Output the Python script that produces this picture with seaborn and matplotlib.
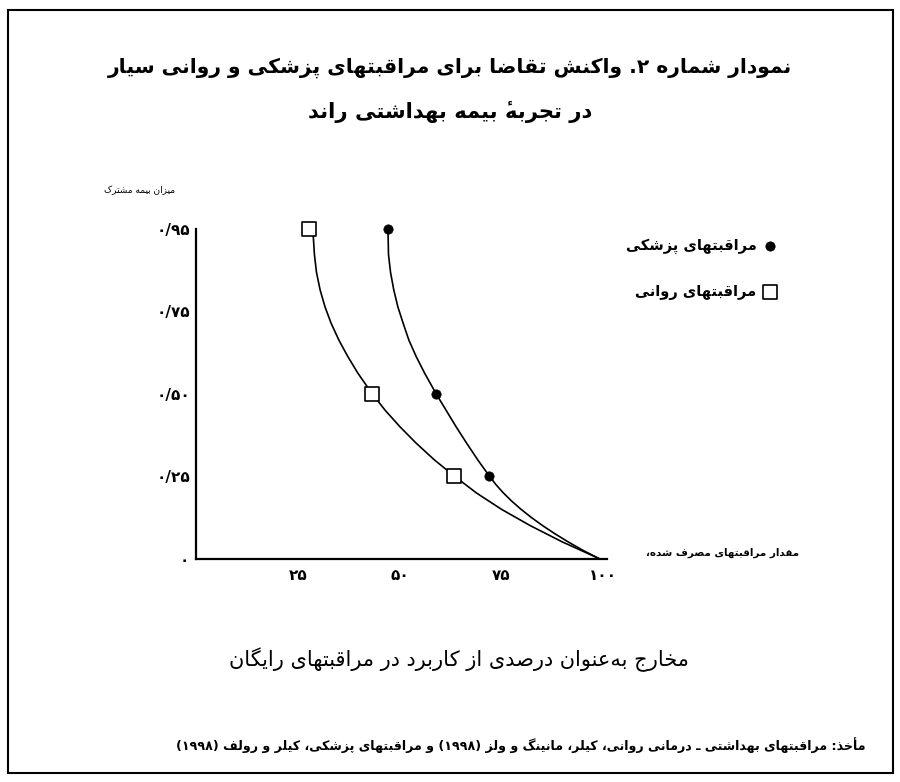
import re
import numpy as np
import pandas as pd
import matplotlib
matplotlib.use("Agg")
import matplotlib.pyplot as plt
import seaborn as sns
from matplotlib.patches import Rectangle

# ---------------- data ----------------
medical_pts_x = [47.1, 59.0, 72.1]
medical_pts_y = [0.95, 0.50, 0.25]
mental_pts_x = [27.8, 43.3, 63.5]
mental_pts_y = [0.95, 0.50, 0.25]

# points
medical_curve_x = [47.1, 47.2, 47.3, 47.8, 48.6, 49.6, 50.9, 52.3, 54.1, 56.2, 59.0, 61.4,
                   63.9, 66.5, 69.25, 72.1, 73.65, 75.45, 77.5, 79.8, 82.35, 85.15, 88.2,
                   91.5, 95.05, 99.0]
medical_curve_y = [0.95, 0.935, 0.888, 0.845, 0.802, 0.761, 0.714, 0.663, 0.613, 0.562, 0.50, 0.451,
                   0.40, 0.35, 0.299, 0.25, 0.225, 0.20, 0.175, 0.15, 0.125, 0.10, 0.075,
                   0.05, 0.025, 0.0]
mental_curve_x = [27.8, 28.8, 29.1, 29.6, 30.5, 31.7, 33.2, 35.1, 37.3, 39.8, 43.3, 46.4,
                  50.1, 54.1, 58.6, 63.5, 68.9, 75.1, 82.1, 89.9, 99.0]
mental_curve_y = [0.95, 0.935, 0.888, 0.845, 0.802, 0.761, 0.714, 0.663, 0.613, 0.562, 0.50, 0.451,
                  0.40, 0.35, 0.299, 0.25, 0.199, 0.149, 0.10, 0.051, 0.0]

x_ticks = [25, 50, 75, 100]
x_ticklabels = ["۲۵", "۵۰", "۷۵", "۱۰۰"]
y_ticks = [0.25, 0.50, 0.75, 0.95]
y_ticklabels = ["۰/۲۵", "۰/۵۰", "۰/۷۵", "۰/۹۵"]

title_line1 = "نمودار شماره ۲. واکنش تقاضا برای مراقبتهای پزشکی و روانی سیار"
title_line2 = "در تجربهٔ بیمه بهداشتی راند"
y_label = "میزان بیمه مشترک"
x_label = "مقدار مراقبتهای مصرف شده،"
caption = "مخارج به\u200cعنوان درصدی از کاربرد در مراقبتهای رایگان"
source = "مأخذ: مراقبتهای بهداشتی ـ درمانی روانی، کیلر، مانینگ و ولز (۱۹۹۸) و مراقبتهای پزشکی، کیلر و رولف (۱۹۹۸)"
label_medical = "مراقبتهای پزشکی"
label_mental = "مراقبتهای روانی"

# ---------------- simple Arabic/Persian shaping + RTL ordering ----------------
FORMS = {
    '\u0621': ('\uFE80', None, None, None),
    '\u0622': ('\uFE81', '\uFE82', None, None),
    '\u0623': ('\uFE83', '\uFE84', None, None),
    '\u0624': ('\uFE85', '\uFE86', None, None),
    '\u0625': ('\uFE87', '\uFE88', None, None),
    '\u0626': ('\uFE89', '\uFE8A', '\uFE8B', '\uFE8C'),
    '\u0627': ('\uFE8D', '\uFE8E', None, None),
    '\u0628': ('\uFE8F', '\uFE90', '\uFE91', '\uFE92'),
    '\u0629': ('\uFE93', '\uFE94', None, None),
    '\u062A': ('\uFE95', '\uFE96', '\uFE97', '\uFE98'),
    '\u062B': ('\uFE99', '\uFE9A', '\uFE9B', '\uFE9C'),
    '\u062C': ('\uFE9D', '\uFE9E', '\uFE9F', '\uFEA0'),
    '\u062D': ('\uFEA1', '\uFEA2', '\uFEA3', '\uFEA4'),
    '\u062E': ('\uFEA5', '\uFEA6', '\uFEA7', '\uFEA8'),
    '\u062F': ('\uFEA9', '\uFEAA', None, None),
    '\u0630': ('\uFEAB', '\uFEAC', None, None),
    '\u0631': ('\uFEAD', '\uFEAE', None, None),
    '\u0632': ('\uFEAF', '\uFEB0', None, None),
    '\u0633': ('\uFEB1', '\uFEB2', '\uFEB3', '\uFEB4'),
    '\u0634': ('\uFEB5', '\uFEB6', '\uFEB7', '\uFEB8'),
    '\u0635': ('\uFEB9', '\uFEBA', '\uFEBB', '\uFEBC'),
    '\u0636': ('\uFEBD', '\uFEBE', '\uFEBF', '\uFEC0'),
    '\u0637': ('\uFEC1', '\uFEC2', '\uFEC3', '\uFEC4'),
    '\u0638': ('\uFEC5', '\uFEC6', '\uFEC7', '\uFEC8'),
    '\u0639': ('\uFEC9', '\uFECA', '\uFECB', '\uFECC'),
    '\u063A': ('\uFECD', '\uFECE', '\uFECF', '\uFED0'),
    '\u0641': ('\uFED1', '\uFED2', '\uFED3', '\uFED4'),
    '\u0642': ('\uFED5', '\uFED6', '\uFED7', '\uFED8'),
    '\u0643': ('\uFED9', '\uFEDA', '\uFEDB', '\uFEDC'),
    '\u0644': ('\uFEDD', '\uFEDE', '\uFEDF', '\uFEE0'),
    '\u0645': ('\uFEE1', '\uFEE2', '\uFEE3', '\uFEE4'),
    '\u0646': ('\uFEE5', '\uFEE6', '\uFEE7', '\uFEE8'),
    '\u0647': ('\uFEE9', '\uFEEA', '\uFEEB', '\uFEEC'),
    '\u0648': ('\uFEED', '\uFEEE', None, None),
    '\u0649': ('\uFEEF', '\uFEF0', None, None),
    '\u064A': ('\uFEF1', '\uFEF2', '\uFEF3', '\uFEF4'),
    '\u067E': ('\uFB56', '\uFB57', '\uFB58', '\uFB59'),
    '\u0686': ('\uFB7A', '\uFB7B', '\uFB7C', '\uFB7D'),
    '\u0698': ('\uFB8A', '\uFB8B', None, None),
    '\u06A9': ('\uFB8E', '\uFB8F', '\uFB90', '\uFB91'),
    '\u06AF': ('\uFB92', '\uFB93', '\uFB94', '\uFB95'),
    '\u06CC': ('\uFBFC', '\uFBFD', '\uFBFE', '\uFBFF'),
    '\u06C0': ('\uFBA4', '\uFBA5', None, None),
    '\u0640': ('\u0640', '\u0640', '\u0640', '\u0640'),
}


def _joins(c):
    return c in FORMS and FORMS[c][1] is not None


def _dual(c):
    return c in FORMS and FORMS[c][2] is not None


def reshape(s):
    out = []
    n = len(s)
    for i, c in enumerate(s):
        if c not in FORMS:
            if c != '\u200c':
                out.append(c)
            continue
        iso, fin, ini, med = FORMS[c]
        prev = s[i - 1] if i > 0 else ''
        nxt = s[i + 1] if i + 1 < n else ''
        jp = fin is not None and _dual(prev)
        jn = ini is not None and _joins(nxt)
        if jp and jn:
            out.append(med)
        elif jp:
            out.append(fin)
        elif jn:
            out.append(ini)
        else:
            out.append(iso)
    return ''.join(out)


LTR_RUN = re.compile(r'[0-9\u06F0-\u06F9]+(?:[/.][0-9\u06F0-\u06F9]+)*')
MIRROR = {'(': ')', ')': '(', '[': ']', ']': '['}


def rtl(s):
    s = reshape(s)
    parts, pos = [], 0
    for m in LTR_RUN.finditer(s):
        if m.start() > pos:
            parts.append((False, s[pos:m.start()]))
        parts.append((True, m.group()))
        pos = m.end()
    if pos < len(s):
        parts.append((False, s[pos:]))
    out = []
    for is_ltr, t in reversed(parts):
        out.append(t if is_ltr else ''.join(MIRROR.get(ch, ch) for ch in reversed(t)))
    return ''.join(out)


# ---------------- figure ----------------
sns.set_style("white")
plt.rcParams['font.family'] = ['DejaVu Sans']
plt.rcParams['text.color'] = 'black'
plt.rcParams['axes.labelcolor'] = 'black'
plt.rcParams['xtick.color'] = 'black'
plt.rcParams['ytick.color'] = 'black'

fig = plt.figure(figsize=(9.0, 7.82), dpi=100)
ax = fig.add_axes([196 / 900, 1 - 558.5 / 782, 415.1 / 900, 329.5 / 782])


def fwd(y):
    y = np.asarray(y, dtype=float)
    return np.where(y <= 0.75, y, 0.75 + (y - 0.75) * 1.25)


def inv(p):
    p = np.asarray(p, dtype=float)
    return np.where(p <= 0.75, p, 0.75 + (p - 0.75) * 0.8)


ax.set_yscale('function', functions=(fwd, inv))

med_curve = pd.DataFrame({"x": medical_curve_x, "y": medical_curve_y})
men_curve = pd.DataFrame({"x": mental_curve_x, "y": mental_curve_y})
sns.lineplot(data=med_curve, x="x", y="y", sort=False, estimator=None, color="black",
             linewidth=1.2, ax=ax, clip_on=False, zorder=2)
sns.lineplot(data=men_curve, x="x", y="y", sort=False, estimator=None, color="black",
             linewidth=1.2, ax=ax, clip_on=False, zorder=2)

med_pts = pd.DataFrame({"x": medical_pts_x, "y": medical_pts_y})
men_pts = pd.DataFrame({"x": mental_pts_x, "y": mental_pts_y})
sns.scatterplot(data=med_pts, x="x", y="y", marker="o", s=45, color="black",
                edgecolor="black", linewidth=0.5, ax=ax, clip_on=False, zorder=4,
                label=rtl(label_medical))
sns.scatterplot(data=men_pts, x="x", y="y", marker="s", s=110, facecolor="white",
                edgecolor="black", linewidth=1.2, ax=ax, clip_on=False, zorder=4,
                label=rtl(label_mental))

ax.set_xlim(0, 102)
ax.set_ylim(0, 0.95)
ax.set_xlabel("")
ax.set_ylabel("")

for side in ("top", "right"):
    ax.spines[side].set_visible(False)
for side in ("left", "bottom"):
    ax.spines[side].set_linewidth(1.6)
    ax.spines[side].set_color("black")
ax.spines["left"].set_bounds(0, 0.95)
ax.spines["bottom"].set_bounds(0, 101)

ax.set_xticks(x_ticks)
ax.set_xticklabels(x_ticklabels, fontsize=11, fontweight="bold")
ax.set_yticks(y_ticks)
ax.set_yticklabels(y_ticklabels, fontsize=11, fontweight="bold")
ax.set_yticks([0], minor=True)
ax.set_yticklabels(["۰"], minor=True, fontsize=11, fontweight="bold")
ax.set_xticks([], minor=True)
ax.tick_params(axis="x", which="major", direction="in", length=6, width=1.2, pad=7)
ax.tick_params(axis="y", which="major", direction="in", length=5, width=1.2, pad=4)
ax.tick_params(axis="y", which="minor", length=0, pad=5)

leg = ax.legend(loc="upper right", bbox_to_anchor=(1.428, 1.012), frameon=False,
                markerfirst=False, handlelength=0.8, handletextpad=0.5, labelspacing=2.05,
                prop={"size": 10.5, "weight": "bold"})

# axis titles (RTL text)
fig.text(175 / 900, 1 - 190 / 782, rtl(y_label), ha="right", va="center", fontsize=6.5)
fig.text(799 / 900, 1 - 553 / 782, rtl(x_label), ha="right", va="center", fontsize=7.5,
         fontweight="bold")

# titles and captions
fig.text(0.5, 1 - 68 / 782, rtl(title_line1), ha="center", va="center", fontsize=14.6,
         fontweight="bold")
fig.text(0.5, 1 - 112 / 782, rtl(title_line2), ha="center", va="center", fontsize=15.2,
         fontweight="bold")
fig.text(459 / 900, 1 - 660 / 782, rtl(caption), ha="center", va="center", fontsize=15)
fig.text(865 / 900, 1 - 745 / 782, rtl(source), ha="right", va="center", fontsize=9.1,
         fontweight="bold")

# outer frame
fig.patches.append(Rectangle((8 / 900, 1 - 773 / 782), 885 / 900, 763 / 782,
                             transform=fig.transFigure, fill=False, edgecolor="black",
                             linewidth=1.5))

fig.savefig("out.png", dpi=100)
